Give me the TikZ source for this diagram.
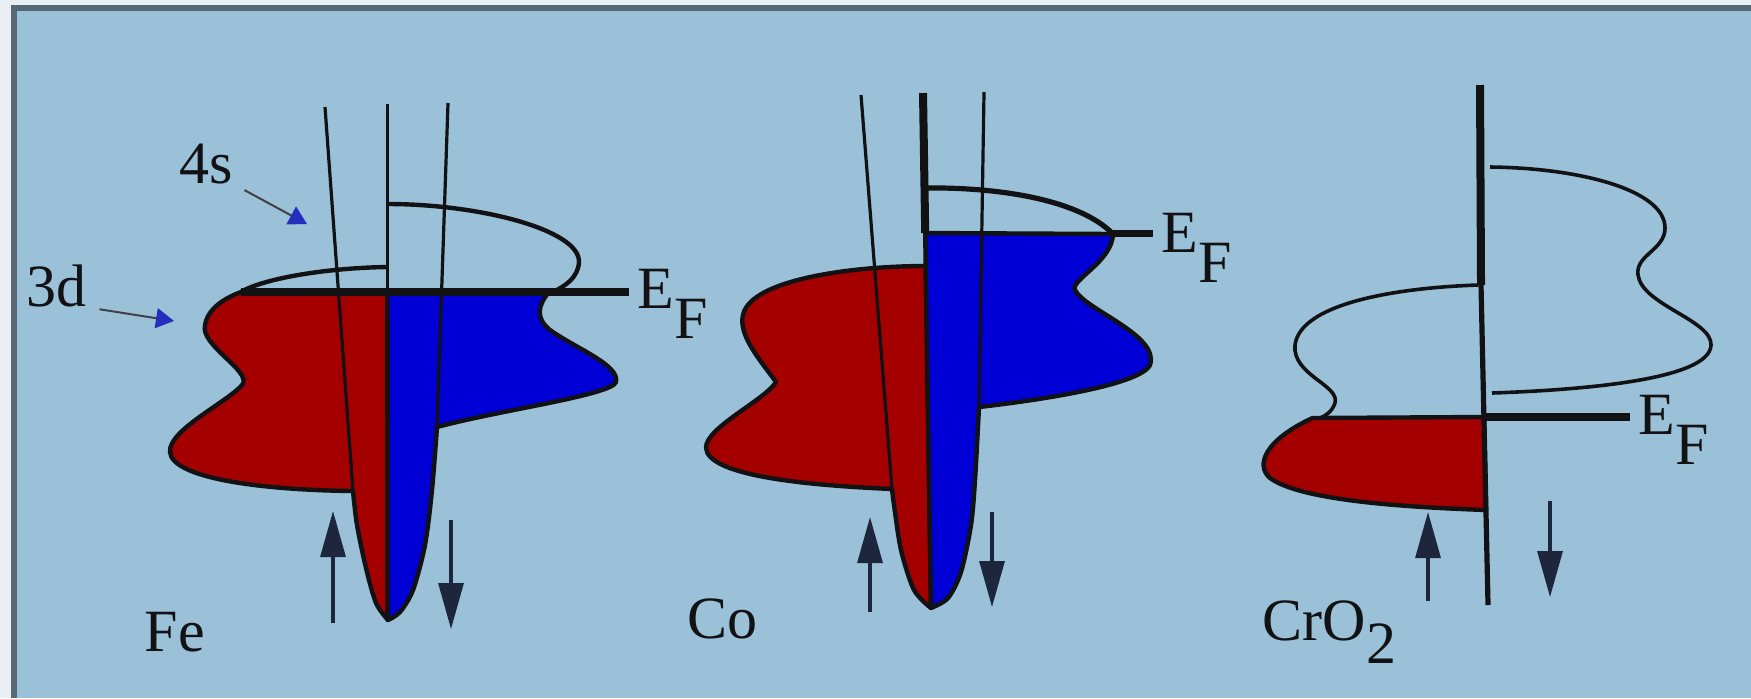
\documentclass[tikz,border=0pt]{standalone}
\usepackage{fontspec}
\setmainfont{Liberation Serif}
\usepackage{tikz}
\usetikzlibrary{arrows.meta,positioning}
\definecolor{sky}{RGB}{155,193,217}
\definecolor{rim}{RGB}{86,104,118}
\definecolor{paper}{RGB}{234,239,243}
\definecolor{upred}{RGB}{165,0,0}
\definecolor{dnblue}{RGB}{0,0,214}
\definecolor{ink}{RGB}{18,18,20}
\definecolor{navy}{RGB}{30,38,62}
\definecolor{tipblue}{RGB}{35,45,190}

\tikzset{
  band/.style={ink,line width=1.1pt,line join=round},
  sline/.style={ink,line width=0.8pt},
  efline/.style={ink,line width=1.8pt},
  spin/.style={navy,line width=0.8pt,-{Triangle[width=6.25pt,length=11.5pt]}},
  ptr/.style={ink!80,line width=0.5pt,-{Triangle[width=5pt,length=4.5pt,color=tipblue,fill=tipblue]}},
  lbl/.style={inner sep=0pt,anchor=base west,text=ink}
}

\begin{document}
\begin{tikzpicture}[x=0.25pt,y=-0.25pt,font=\fontsize{15}{18}\selectfont]
\useasboundingbox (0,0) rectangle (1751,698);
% background and frame
\fill[paper] (0,0) rectangle (1751,698);
\fill[rim] (11,5) rectangle (1751,698);
\fill[sky] (16.5,11) rectangle (1751,698);

% ---- Fe ----
\filldraw[band,fill=upred] (387.5,292) -- (387.5,620)
  -- plot[smooth] coordinates {(388,620) (376,603) (366,568) (357,525) (353,491)}
  .. controls (260,490) and (172,478) .. (170,452)
  .. controls (168,430) and (228,402) .. (243,384)
  .. controls (250,370) and (200,345) .. (205,325)
  .. controls (208,308) and (225,298) .. (241,292) -- cycle;
\filldraw[band,fill=dnblue] (387.5,292) -- (549,292)
  .. controls (538,305) and (535,318) .. (550,330)
  .. controls (575,348) and (620,365) .. (616,382)
  .. controls (612,395) and (500,410) .. (437,427)
  -- plot[smooth] coordinates {(437,427) (432,490) (425,545) (413,590) (400,612) (388,620)}
  -- cycle;
% 4s bands
\draw[sline] (325,107) -- (353,491);
\draw[sline] (387.5,104) -- (387.5,620);
\draw[sline] (448,103) -- (437,427);
\draw[band] (387.5,267) .. controls (320,268) and (260,280) .. (241,292);
\draw[band] (387.5,204) .. controls (480,204) and (580,230) .. (579,262)
  .. controls (578,278) and (565,286) .. (553,292);
\draw[efline] (241,292) -- (629,292);
\node[lbl] (efFe) at (637,308) {E\raisebox{-7.5pt}{F}};
\node[lbl] (fe) at (144,651) {Fe};
% band labels
\node[lbl] (lbl4s) at (179,183) {4s};
\node[lbl] (lbl3d) at (26,306) {3d};
\coordinate (s4) at (307,224);
\coordinate (d3) at (174,321);
\draw[ptr,shorten <=3pt] (lbl4s.south east) -- (s4);
\draw[ptr,shorten <=3pt] (lbl3d.south east) -- (d3);

% ---- Co ----
\filldraw[band,fill=upred] (925.7,266) -- (931,608)
  -- plot[smooth] coordinates {(931,608) (914,590) (901,550) (894,505) (892,489)}
  .. controls (800,485) and (708,475) .. (706,448)
  .. controls (705,428) and (765,400) .. (776,382)
  .. controls (760,360) and (738,335) .. (743,315)
  .. controls (750,280) and (850,266) .. (925.7,266) -- cycle;
\filldraw[band,fill=dnblue] (925.2,233) -- (1113,234)
  .. controls (1112,262) and (1070,280) .. (1075,290)
  .. controls (1085,310) and (1160,335) .. (1150,365)
  .. controls (1140,385) and (1040,400) .. (979,407)
  -- plot[smooth] coordinates {(979,407) (975,480) (971,525) (961,572) (948,598) (931,608)}
  -- cycle;
\draw[sline] (861,95) -- (892,489);
\draw[sline] (984,92) -- (979,407);
\draw[ink,line width=2pt] (923,93) -- (925.2,233);
\draw[sline] (925.2,233) -- (931,608);
\draw[band,line width=1.3pt] (925,188) .. controls (1000,187) and (1080,200) .. (1113,234);
\draw[efline] (1113,233.5) -- (1153,233.5);
\node[lbl] (efCo) at (1161,252) {E\raisebox{-7.5pt}{F}};
\node[lbl] (co) at (687,638) {Co};

% ---- CrO2 ----
\filldraw[band,fill=upred] (1484,417) -- (1486,510)
  .. controls (1400,507) and (1300,500) .. (1270,478)
  .. controls (1255,465) and (1265,440) .. (1312.5,418) -- cycle;
\draw[band,line width=0.9pt] (1478,285) .. controls (1390,288) and (1300,305) .. (1295,345)
  .. controls (1292,375) and (1340,385) .. (1335,403)
  .. controls (1332,412) and (1325,416) .. (1320,418);
\draw[band,line width=0.9pt] (1490,167) .. controls (1580,168) and (1665,190) .. (1665,228)
  .. controls (1665,250) and (1635,255) .. (1638,275)
  .. controls (1642,305) and (1712,320) .. (1711,345)
  .. controls (1710,380) and (1580,390) .. (1492,393);
\draw[ink,line width=2pt] (1480,85) -- (1481,285);
\draw[ink,line width=1.3pt] (1481,285) -- (1488,605);
\draw[efline] (1486,417) -- (1630,417);
\node[lbl] (efCr) at (1638,434) {E\raisebox{-7.5pt}{F}};
\node[lbl] (cro) at (1262,640) {CrO\raisebox{-5.75pt}{2}};

% spin arrows
\foreach \x/\a/\b in {333/623/511, 451/520/629, 870/612/517, 992/512/607, 1428/601/512, 1550/501/597}
  \draw[spin] (\x,\a) -- (\x,\b);
\end{tikzpicture}
\end{document}
